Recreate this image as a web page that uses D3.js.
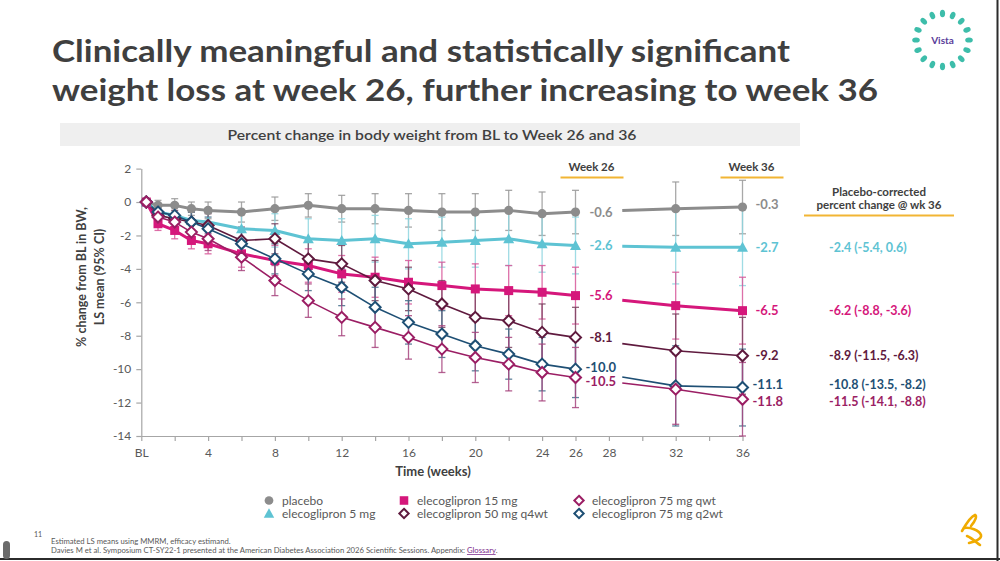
<!DOCTYPE html>
<html><head><meta charset="utf-8">
<script src="https://cdn.jsdelivr.net/npm/d3@7"></script>
<style>
body{margin:0;background:#fff;}
svg{display:block;font-family:Lato,'Open Sans',sans-serif;}
</style>
</head><body>
<svg id="c" width="1000" height="561"></svg>
<script>
// ---------------- DATA ----------------
const weeks = [0.3, 1, 2, 3, 4, 6, 8, 10, 12, 14, 16, 18, 20, 22, 24, 26, 32, 36];
const xTickValues = [0,2,4,6,8,10,12,14,16,18,20,22,24,26,28,30,32,34,36];
const xTickLabels = {0:"BL",4:"4",8:"8",12:"12",16:"16",20:"20",24:"24",26:"26",28:"28",32:"32",36:"36"};
const yTicks = [2, 0, -2, -4, -6, -8, -10, -12, -14];

const seriesNames = ["placebo", "elecoglipron 5 mg", "elecoglipron 15 mg",
  "elecoglipron 50 mg q4wt", "elecoglipron 75 mg qwt", "elecoglipron 75 mg q2wt"];

const placebo    = [0,-0.2,-0.2,-0.4,-0.5,-0.6,-0.4,-0.2,-0.4,-0.4,-0.5,-0.6,-0.6,-0.5,-0.7,-0.6,-0.4,-0.3];
const placeboCI  = [0,0.3,0.4,0.4,0.5,0.6,0.7,0.7,0.8,0.9,1.0,1.1,1.1,1.2,1.3,1.3,1.6,1.6];
const eleco5     = [0,-0.6,-0.8,-1.1,-1.2,-1.6,-1.7,-2.2,-2.3,-2.2,-2.5,-2.4,-2.3,-2.2,-2.5,-2.6,-2.7,-2.7];
const eleco5CI   = [0,0.4,0.5,0.6,0.7,0.9,1.0,1.2,1.3,1.4,1.5,1.5,1.6,1.6,1.7,1.7,2.2,2.3];
const eleco15    = [0,-1.3,-1.7,-2.3,-2.5,-3.1,-3.5,-3.8,-4.3,-4.5,-4.8,-5.0,-5.2,-5.3,-5.4,-5.6,-6.2,-6.5];
const eleco15CI  = [0,0.4,0.5,0.5,0.6,0.8,0.9,1.0,1.1,1.2,1.3,1.4,1.5,1.5,1.6,1.7,2.0,2.0];
const eleco50q4  = [0,-0.8,-1.0,-1.2,-1.4,-2.3,-2.2,-3.4,-3.7,-4.7,-5.2,-6.1,-6.9,-7.1,-7.8,-8.1,-8.9,-9.2];
const eleco50q4CI= [0,0.4,0.5,0.6,0.7,0.8,0.9,1.0,1.1,1.2,1.3,1.4,1.5,1.6,1.7,1.8,2.2,2.3];
const eleco75qw  = [0,-0.9,-1.2,-1.8,-2.2,-3.3,-4.7,-5.9,-6.9,-7.5,-8.1,-8.8,-9.3,-9.7,-10.2,-10.5,-11.2,-11.8];
const eleco75qwCI= [0,0.4,0.5,0.6,0.7,0.8,0.9,1.0,1.1,1.2,1.3,1.4,1.5,1.6,1.7,1.8,2.1,2.2];
const eleco75q2  = [0,-0.6,-0.8,-1.2,-1.6,-2.5,-3.4,-4.3,-5.1,-6.3,-7.2,-7.9,-8.6,-9.1,-9.7,-10.0,-11.0,-11.1];
const eleco75q2CI= [0,0.4,0.5,0.6,0.7,0.8,0.9,1.0,1.1,1.2,1.3,1.4,1.5,1.5,1.6,1.7,2.4,2.3];

// placebo-corrected @ wk 36 (5mg, 15mg, 50 q4wt, 75 q2wt, 75 qwt)
const pcNames = ["elecoglipron 5 mg","elecoglipron 15 mg","elecoglipron 50 mg q4wt","elecoglipron 75 mg q2wt","elecoglipron 75 mg qwt"];
const pcEst = [-2.4, -6.2, -8.9, -10.8, -11.5];
const pcLo  = [-5.4, -8.8, -11.5, -13.5, -14.1];
const pcHi  = [0.6, -3.6, -6.3, -8.2, -8.8];

const titleLines = ["Clinically meaningful and statistically significant",
                    "weight loss at week 26, further increasing to week 36"];
const subtitle = "Percent change in body weight from BL to Week 26 and 36";

// ---------------- STYLE ----------------
const values = [placebo, eleco5, eleco15, eleco50q4, eleco75qw, eleco75q2];
const cis = [placeboCI, eleco5CI, eleco15CI, eleco50q4CI, eleco75qwCI, eleco75q2CI];
const style = [
  {color:"#8c8c8c", bar:"#9a9a9a", lw:3,   sym:"circle",   d26:0,  d36:-3, x26:0,  x36:0},
  {color:"#5ec3d3", bar:"#8fd6e0", lw:3,   sym:"triangle", d26:0,  d36:0,  x26:0,  x36:0},
  {color:"#d5177b", bar:"#d8589a", lw:3,   sym:"square",   d26:0,  d36:0,  x26:0,  x36:0},
  {color:"#5f1a3e", bar:"#7a4460", lw:1.6, sym:"diamond",  d26:0,  d36:0,  x26:0,  x36:0},
  {color:"#9b1e64", bar:"#a8467f", lw:1.6, sym:"diamond",  d26:4,  d36:2,  x26:-4, x36:-3},
  {color:"#1e4f74", bar:"#456f8c", lw:1.6, sym:"diamond",  d26:-2, d36:-3, x26:-4, x36:-3}
];
const drawOrder = [0,1,2,3,5,4];
const gapStartWeek = 28.8;

const svg = d3.select("#c");
const x = d3.scaleLinear().domain([0,36]).range([141.3, 742.5]);
const y = d3.scaleLinear().domain([-14,2]).range([436, 168.6]);

// frame
svg.append("line").attr("x1",997.5).attr("x2",997.5).attr("y1",0).attr("y2",561).attr("stroke","#2b2b2b").attr("stroke-width",2);
svg.append("line").attr("x1",0).attr("x2",1000).attr("y1",559).attr("y2",559).attr("stroke","#2b2b2b").attr("stroke-width",2);
svg.append("rect").attr("x",3).attr("y",541).attr("width",7).attr("height",18).attr("rx",3.5).attr("fill","#6b6b6b");

// title
titleLines.forEach((t,i)=>{
  svg.append("text").attr("x",52).attr("y",[62,101][i]).text(t)
    .attr("font-size",31).attr("font-weight",700).attr("fill","#3f3f3f")
    .attr("textLength",[738,826][i]).attr("lengthAdjust","spacingAndGlyphs");
});

// subtitle band
svg.append("rect").attr("x",60).attr("y",123).attr("width",740).attr("height",23).attr("fill","#efefef");
svg.append("text").attr("x",432).attr("y",140).attr("text-anchor","middle").text(subtitle)
  .attr("font-size",13.5).attr("font-weight",600).attr("fill","#404040")
  .attr("textLength",409).attr("lengthAdjust","spacingAndGlyphs");

// axes
const gx = svg.append("g").attr("transform",`translate(0,${y(-14)})`)
  .call(d3.axisBottom(x).tickValues(xTickValues).tickSize(5).tickSizeOuter(0)
    .tickFormat(d => xTickLabels[d] || ""));
const gy = svg.append("g").attr("transform",`translate(${x(0)},0)`)
  .call(d3.axisLeft(y).tickValues(yTicks).tickSize(5).tickSizeOuter(0)
    .tickFormat(d => String(d)));
[gx,gy].forEach(g=>{
  g.select(".domain").attr("stroke","#a6a6a6").attr("stroke-width",1.2);
  g.selectAll(".tick line").attr("stroke","#a6a6a6").attr("stroke-width",1.2);
  g.selectAll(".tick text").attr("fill","#595959").attr("font-size",12).attr("font-family","Lato, sans-serif");
});
gx.selectAll(".tick text").attr("dy","1.05em");
gy.selectAll(".tick text").attr("dx","-2");

// axis titles
svg.append("text").attr("x",433).attr("y",476).attr("text-anchor","middle").text("Time (weeks)")
  .attr("font-size",13).attr("font-weight",700).attr("fill","#404040");
const yt = svg.append("text").attr("transform","translate(0,277) rotate(-90)")
  .attr("text-anchor","middle").attr("font-size",12.5).attr("font-weight",700).attr("fill","#404040");
yt.append("tspan").attr("x",0).attr("y",86).text("% change from BL in BW,");
yt.append("tspan").attr("x",0).attr("y",104).text("LS mean (95% CI)");

// Week headers
function header(label, cx, x1, x2){
  svg.append("text").attr("x",cx).attr("y",171).attr("text-anchor","middle").text(label)
    .attr("font-size",11.5).attr("font-weight",700).attr("fill","#404040");
  svg.append("line").attr("x1",x1).attr("x2",x2).attr("y1",177.5).attr("y2",177.5)
    .attr("stroke","#f2b534").attr("stroke-width",2);
}
header("Week 26", x(26)+16, x(26)-15, x(26)+48);
header("Week 36", x(36)+9, x(36)-22, x(36)+41);

// placebo-corrected header
svg.append("text").attr("x",879).attr("y",196).attr("text-anchor","middle").text("Placebo-corrected")
  .attr("font-size",11.5).attr("font-weight",700).attr("fill","#404040");
svg.append("text").attr("x",879).attr("y",209).attr("text-anchor","middle").text("percent change @ wk 36")
  .attr("font-size",11.5).attr("font-weight",700).attr("fill","#404040");
svg.append("line").attr("x1",804).attr("x2",954).attr("y1",215.5).attr("y2",215.5)
  .attr("stroke","#f2b534").attr("stroke-width",2);

// symbol helper
function drawSym(g, sym, cx, cy, st, scale=1){
  if(sym==="circle") g.append("circle").attr("cx",cx).attr("cy",cy).attr("r",4.6*scale).attr("fill",st.color);
  else if(sym==="square") g.append("rect").attr("x",cx-4.5*scale).attr("y",cy-4.5*scale).attr("width",9*scale).attr("height",9*scale).attr("fill",st.color);
  else if(sym==="triangle") g.append("path").attr("d",`M${cx},${cy-5.5*scale}L${cx+5.5*scale},${cy+4.5*scale}L${cx-5.5*scale},${cy+4.5*scale}Z`).attr("fill",st.color);
  else g.append("path").attr("d",`M${cx},${cy-5.5*scale}L${cx+5.5*scale},${cy}L${cx},${cy+5.5*scale}L${cx-5.5*scale},${cy}Z`)
     .attr("fill","#fff").attr("stroke",st.color).attr("stroke-width",2);
}

// error bars
const gErr = svg.append("g");
drawOrder.forEach(si=>{
  const st = style[si];
  weeks.forEach((w,i)=>{
    const hw = cis[si][i]; if(!hw) return;
    const v = values[si][i];
    gErr.append("line").attr("x1",x(w)).attr("x2",x(w)).attr("y1",y(v+hw)).attr("y2",y(v-hw))
      .attr("stroke",st.bar).attr("stroke-width",1.3).attr("opacity",0.85);
    [v+hw, v-hw].forEach(e=>{
      gErr.append("line").attr("x1",x(w)-3.5).attr("x2",x(w)+3.5).attr("y1",y(e)).attr("y2",y(e))
        .attr("stroke",st.bar).attr("stroke-width",1.3).attr("opacity",0.85);
    });
  });
});

// lines
const line = d3.line().x(d=>x(d[0])).y(d=>y(d[1]));
const gLines = svg.append("g");
drawOrder.forEach(si=>{
  const st = style[si];
  const pts = weeks.map((w,i)=>[w, values[si][i]]);
  const i26 = weeks.indexOf(26), i32 = weeks.indexOf(32);
  const seg1 = pts.slice(0, i26+1);
  const t = (gapStartWeek-26)/(32-26);
  const vg = values[si][i26] + t*(values[si][i32]-values[si][i26]);
  const seg2 = [[gapStartWeek, vg]].concat(pts.slice(i32));
  [seg1, seg2].forEach(s=>{
    gLines.append("path").attr("d",line(s)).attr("fill","none").attr("stroke",st.color)
      .attr("stroke-width",st.lw).attr("stroke-linejoin","round");
  });
});

// markers
const gM = svg.append("g");
drawOrder.forEach(si=>{
  weeks.forEach((w,i)=>drawSym(gM, style[si].sym, x(w), y(values[si][i]), style[si]));
});

// end labels
const fmt = v => v.toFixed(1);
values.forEach((vals,si)=>{
  const st = style[si];
  const i26 = weeks.indexOf(26), i36 = weeks.indexOf(36);
  svg.append("text").attr("x",x(26)+14+st.x26).attr("y",y(vals[i26])+st.d26).attr("dy","0.35em")
    .text(fmt(vals[i26])).attr("font-size",13).attr("font-weight",700).attr("fill",st.color);
  svg.append("text").attr("x",x(36)+13+st.x36).attr("y",y(vals[i36])+st.d36).attr("dy","0.35em")
    .text(fmt(vals[i36])).attr("font-size",13).attr("font-weight",700).attr("fill",st.color);
});

// placebo-corrected values
pcNames.forEach((n,i)=>{
  const si = seriesNames.indexOf(n);
  const st = style[si];
  const v36 = values[si][weeks.indexOf(36)];
  svg.append("text").attr("x",829).attr("y",y(v36)+st.d36).attr("dy","0.35em")
    .text(`${fmt(pcEst[i])} (${fmt(pcLo[i])}, ${fmt(pcHi[i])})`)
    .attr("font-size",12.5).attr("font-weight",700).attr("fill",st.color);
});

// legend
const legendPos = [[269,500.5],[269,513.5],[404,500.5],[404,513.5],[579,500.5],[579,513.5]];
const legendOrder = [0,1,2,3,4,5];
const gL = svg.append("g");
legendOrder.forEach((si,k)=>{
  const [lx,ly] = legendPos[k];
  drawSym(gL, style[si].sym, lx, ly, style[si], si<3 ? 0.95 : 0.85);
  gL.append("text").attr("x",lx+13).attr("y",ly).attr("dy","0.35em").text(seriesNames[si])
    .attr("font-size",12).attr("fill","#595959");
});

// footnotes
svg.append("text").attr("x",34).attr("y",537).text("11").attr("font-size",7).attr("fill","#595959");
svg.append("text").attr("x",51).attr("y",544).text("Estimated LS means using MMRM, efficacy estimand.")
  .attr("font-size",7.7).attr("fill","#595959");
const fn = svg.append("text").attr("x",51).attr("y",553).attr("font-size",7.7).attr("fill","#595959");
fn.append("tspan").text("Davies M et al. Symposium CT-SY22-1 presented at the American Diabetes Association 2026 Scientific Sessions. Appendix: ");
fn.append("tspan").text("Glossary").attr("fill","#7a2a8a").attr("text-decoration","underline");
fn.append("tspan").text(".");

// Vista logo
const logo = svg.append("g").attr("transform","translate(942.5,40)");
d3.range(16).forEach(k=>{
  const a = k*2*Math.PI/16;
  logo.append("ellipse").attr("cx",0).attr("cy",-26.5).attr("rx",2.6).attr("ry",3.8)
    .attr("transform",`rotate(${a*180/Math.PI})`).attr("fill","#3dbdaa");
});
logo.append("text").attr("x",0).attr("y",3.5).attr("text-anchor","middle").text("Vista")
  .attr("font-size",10).attr("font-weight",700).attr("fill","#5a3d9a");

// AZ logo
const az = svg.append("g").attr("fill","none").attr("stroke","#f0ab00").attr("stroke-width",2.6).attr("stroke-linecap","round");
az.append("path").attr("d","M962,531 C966,524 972,516 975,515 C977,516 976,520 971,526");
az.append("path").attr("d","M964,528 C970,527 979,530 981,535 C982,539 974,542 969,543");
az.append("path").attr("d","M967,536 C972,538 977,543 980,545");
</script>
</body></html>
